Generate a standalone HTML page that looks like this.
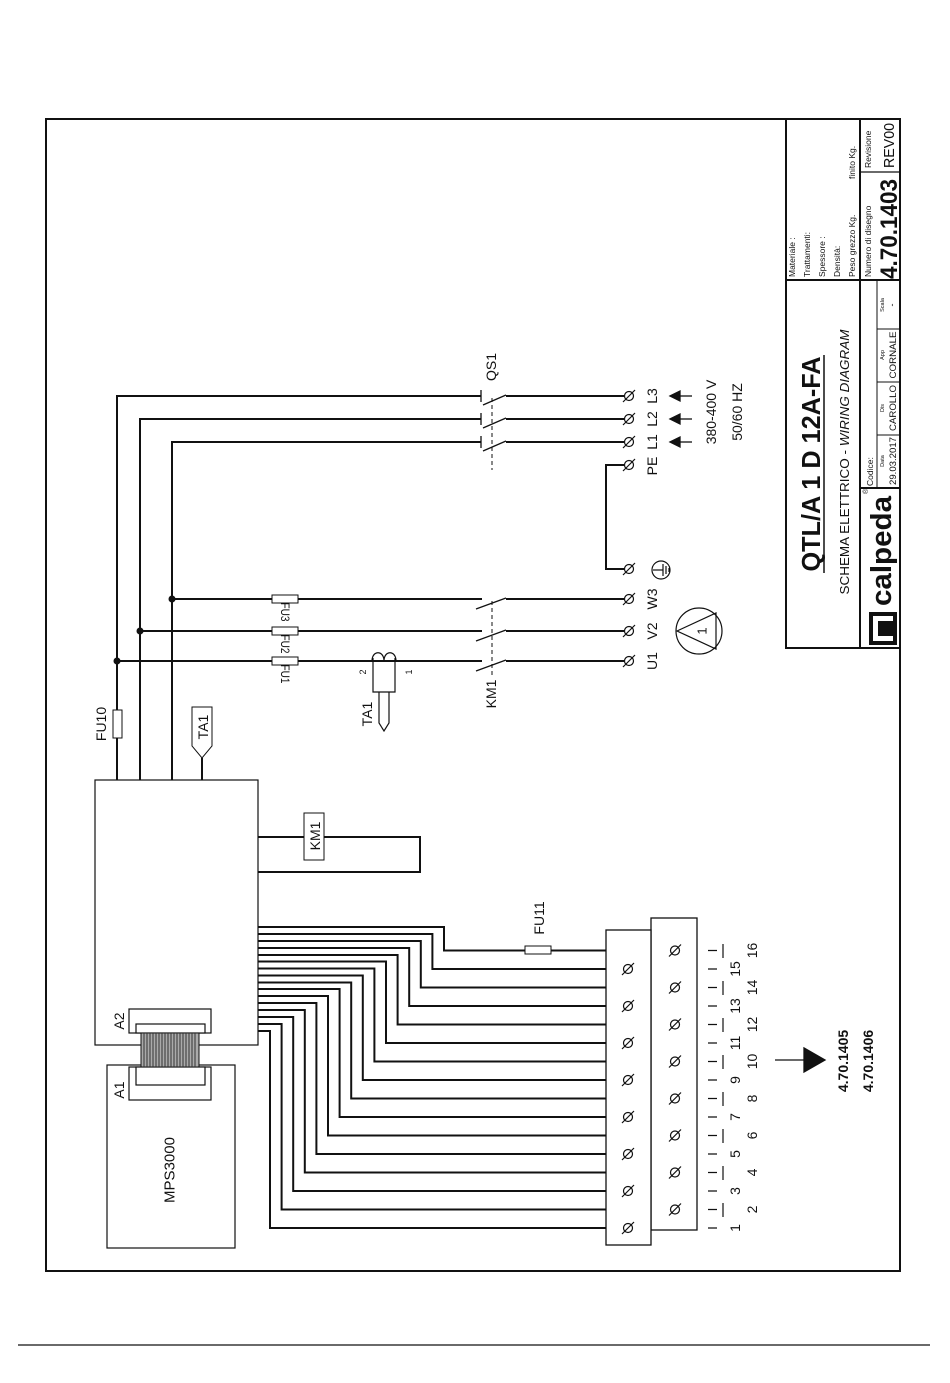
<!DOCTYPE html>
<html><head><meta charset="utf-8"><style>
html,body{margin:0;padding:0;background:#fff;}
svg{display:block;}
text{font-family:"Liberation Sans",sans-serif;fill:#111;}
</style></head><body>
<svg width="950" height="1383" viewBox="0 0 950 1383" xmlns="http://www.w3.org/2000/svg">
<defs>
<g id="t"><circle cx="0" cy="0" r="4.5" fill="#fff" stroke="#111" stroke-width="1.2"/><line x1="-6" y1="6" x2="6" y2="-6" stroke="#111" stroke-width="1.2"/></g>
</defs>
<rect x="46" y="119" width="854" height="1152" fill="none" stroke="#111" stroke-width="2"/>
<line x1="18" y1="1345" x2="930" y2="1345" stroke="#111" stroke-width="1.2"/>

<!-- Title block -->
<g stroke="#111" fill="none">
<rect x="786" y="119" width="114" height="529" stroke-width="2"/>
<line x1="860" y1="119" x2="860" y2="648" stroke-width="2"/>
<line x1="786" y1="280" x2="900" y2="280" stroke-width="2"/>
<line x1="860" y1="172" x2="900" y2="172" stroke-width="1.2"/>
<line x1="860" y1="488" x2="900" y2="488" stroke-width="2"/>
<line x1="877" y1="280" x2="877" y2="488" stroke-width="1"/>
<line x1="877" y1="435" x2="900" y2="435" stroke-width="1"/>
<line x1="877" y1="382" x2="900" y2="382" stroke-width="1"/>
<line x1="877" y1="329" x2="900" y2="329" stroke-width="1"/>
<line x1="824" y1="355" x2="824" y2="573" stroke-width="1.5"/>
</g>
<g font-size="8.5">
<text transform="translate(795,277) rotate(-90)">Materiale :</text>
<text transform="translate(810,277) rotate(-90)">Trattamenti:</text>
<text transform="translate(825,277) rotate(-90)">Spessore :</text>
<text transform="translate(840,277) rotate(-90)">Densità:</text>
<text transform="translate(855,277) rotate(-90)">Peso grezzo Kg.</text>
<text transform="translate(855,179) rotate(-90)">finito Kg.</text>
<text transform="translate(871,277) rotate(-90)">Numero di disegno</text>
<text transform="translate(871,168) rotate(-90)">Revisione</text>
<text transform="translate(873,486) rotate(-90)">Codice:</text>
</g>
<text transform="translate(897,279) rotate(-90)" font-size="24" font-weight="bold" textLength="100" lengthAdjust="spacingAndGlyphs">4.70.1403</text>
<text transform="translate(894,168) rotate(-90)" font-size="15" textLength="45" lengthAdjust="spacingAndGlyphs">REV00</text>
<g font-size="5.5" text-anchor="middle">
<text transform="translate(884,461) rotate(-90)">Data</text>
<text transform="translate(884,408) rotate(-90)">Dis</text>
<text transform="translate(884,355) rotate(-90)">App</text>
<text transform="translate(884,305) rotate(-90)">Scala</text>
</g>
<g font-size="9" text-anchor="middle">
<text transform="translate(896,461) rotate(-90)" textLength="48" lengthAdjust="spacingAndGlyphs">29.03.2017</text>
<text transform="translate(896,408) rotate(-90)" textLength="46" lengthAdjust="spacingAndGlyphs">CAROLLO</text>
<text transform="translate(896,355) rotate(-90)" textLength="47" lengthAdjust="spacingAndGlyphs">CORNALE</text>
<text transform="translate(895,305) rotate(-90)">-</text>
</g>
<text transform="translate(820,464) rotate(-90)" font-size="26" font-weight="bold" text-anchor="middle" textLength="215" lengthAdjust="spacingAndGlyphs">QTL/A 1 D 12A-FA</text>
<text transform="translate(849,462) rotate(-90)" font-size="12.5" text-anchor="middle" textLength="265" lengthAdjust="spacingAndGlyphs">SCHEMA ELETTRICO - <tspan font-style="italic">WIRING DIAGRAM</tspan></text>
<text transform="translate(891,551) rotate(-90)" font-size="29" font-weight="bold" text-anchor="middle" textLength="110" lengthAdjust="spacingAndGlyphs">calpeda</text>
<text transform="translate(868,494) rotate(-90)" font-size="7">®</text>
<rect x="869" y="612" width="28" height="33" fill="#111"/>
<rect x="873" y="616" width="20" height="25" fill="#fff"/>
<rect x="878" y="621" width="19" height="15" fill="#111"/>

<!-- Power wiring -->
<g stroke="#111" stroke-width="2" fill="none">
<polyline points="117,780 117,396 481,396"/>
<polyline points="140,780 140,419 481,419"/>
<polyline points="172,780 172,442 481,442"/>
<line x1="506" y1="396" x2="624" y2="396"/>
<line x1="506" y1="419" x2="624" y2="419"/>
<line x1="506" y1="442" x2="624" y2="442"/>
<polyline points="624,465 606,465 606,569 624,569"/>
<line x1="117" y1="661" x2="482" y2="661"/>
<line x1="140" y1="631" x2="482" y2="631"/>
<line x1="172" y1="599" x2="482" y2="599"/>
<line x1="506" y1="661" x2="624" y2="661"/>
<line x1="506" y1="631" x2="624" y2="631"/>
<line x1="506" y1="599" x2="624" y2="599"/>
<polyline points="258,837 420,837 420,872 258,872"/>
<line x1="202" y1="758" x2="202" y2="780"/>
</g>
<g stroke="#111" stroke-width="1.3">
<line x1="481" y1="390" x2="481" y2="402"/><line x1="483" y1="405" x2="506" y2="395"/>
<line x1="481" y1="413" x2="481" y2="425"/><line x1="483" y1="428" x2="506" y2="418"/>
<line x1="481" y1="436" x2="481" y2="448"/><line x1="483" y1="451" x2="506" y2="441"/>
<line x1="476" y1="671" x2="506" y2="660"/>
<line x1="476" y1="641" x2="506" y2="630"/>
<line x1="476" y1="609" x2="506" y2="598"/>
<line x1="492" y1="398" x2="492" y2="470" stroke-dasharray="4,3" stroke-width="1"/>
<line x1="492" y1="601" x2="492" y2="675" stroke-dasharray="4,3" stroke-width="1"/>
</g>
<g fill="#111">
<circle cx="117" cy="661" r="3.5"/><circle cx="140" cy="631" r="3.5"/><circle cx="172" cy="599" r="3.5"/>
</g>
<g fill="#fff" stroke="#111" stroke-width="1">
<rect x="272" y="595" width="26" height="8"/>
<rect x="272" y="627" width="26" height="8"/>
<rect x="272" y="657" width="26" height="8"/>
<rect x="113" y="710" width="9" height="28"/>
<rect x="525" y="946" width="26" height="8"/>
<rect x="304" y="813" width="20" height="47"/>
<path d="M192,707 L212,707 L212,746 L202,758 L192,746 Z"/>
</g>

<!-- controller box -->
<g stroke="#111" fill="#fff" stroke-width="1.2">
<rect x="95" y="780" width="163" height="265"/>
<rect x="107" y="1065" width="128" height="183"/>
<rect x="129" y="1009" width="82" height="24"/>
<rect x="136" y="1024" width="69" height="9"/>
<rect x="129" y="1067" width="82" height="33"/>
<rect x="136" y="1067" width="69" height="18"/>
</g>
<g stroke="#333" stroke-width="1">
<rect x="141" y="1033" width="58" height="34" fill="#aaa" stroke="#111"/>
<path d="M144,1033v34M147,1033v34M150,1033v34M153,1033v34M156,1033v34M159,1033v34M162,1033v34M165,1033v34M168,1033v34M171,1033v34M174,1033v34M177,1033v34M180,1033v34M183,1033v34M186,1033v34M189,1033v34M192,1033v34M195,1033v34"/>
</g>

<g font-size="14" text-anchor="middle" dominant-baseline="central">
<text transform="translate(285,612) rotate(90)" font-size="12" textLength="19" lengthAdjust="spacingAndGlyphs">FU3</text>
<text transform="translate(285,644) rotate(90)" font-size="12" textLength="19" lengthAdjust="spacingAndGlyphs">FU2</text>
<text transform="translate(285,674) rotate(90)" font-size="12" textLength="19" lengthAdjust="spacingAndGlyphs">FU1</text>
<text transform="translate(101,724) rotate(-90)">FU10</text>
<text transform="translate(203,727) rotate(-90)">TA1</text>
<text transform="translate(315,836) rotate(-90)">KM1</text>
<text transform="translate(539,918) rotate(-90)">FU11</text>
<text transform="translate(491,367) rotate(-90)">QS1</text>
<text transform="translate(491,694) rotate(-90)">KM1</text>
<text transform="translate(367,714) rotate(-90)">TA1</text>
<text transform="translate(652,396) rotate(-90)">L3</text>
<text transform="translate(652,419) rotate(-90)">L2</text>
<text transform="translate(652,442) rotate(-90)">L1</text>
<text transform="translate(652,466) rotate(-90)">PE</text>
<text transform="translate(652,599) rotate(-90)">W3</text>
<text transform="translate(652,631) rotate(-90)">V2</text>
<text transform="translate(652,661) rotate(-90)">U1</text>
<text transform="translate(711,412) rotate(-90)">380-400 V</text>
<text transform="translate(737,412) rotate(-90)">50/60 HZ</text>
<text transform="translate(170,1170) rotate(-90)" font-size="15">MPS3000</text>
<text transform="translate(119,1021) rotate(-90)">A2</text>
<text transform="translate(119,1090) rotate(-90)">A1</text>
<text transform="translate(702,631) rotate(-90)" font-size="13">1</text>
<text transform="translate(363,672) rotate(-90)" font-size="9">2</text>
<text transform="translate(409,672) rotate(-90)" font-size="9">1</text>
<text transform="translate(843,1061) rotate(-90)" font-weight="bold" font-size="14">4.70.1405</text>
<text transform="translate(868,1061) rotate(-90)" font-weight="bold" font-size="14">4.70.1406</text>
</g>
<use href="#t" x="629" y="396"/><use href="#t" x="629" y="419"/><use href="#t" x="629" y="442"/><use href="#t" x="629" y="465"/>
<use href="#t" x="629" y="569"/><use href="#t" x="629" y="599"/><use href="#t" x="629" y="631"/><use href="#t" x="629" y="661"/>
<g stroke="#111" stroke-width="1.3" fill="#111">
<line x1="678" y1="396" x2="692" y2="396"/><path d="M670,396 L680,391 L680,401 Z"/>
<line x1="678" y1="419" x2="692" y2="419"/><path d="M670,419 L680,414 L680,424 Z"/>
<line x1="678" y1="442" x2="692" y2="442"/><path d="M670,442 L680,437 L680,447 Z"/>
<line x1="775" y1="1060" x2="805" y2="1060"/><path d="M804,1048 L825,1060 L804,1072 Z"/>
</g>
<g stroke="#111" stroke-width="1.2" fill="none">
<circle cx="661" cy="570" r="9"/>
<line x1="653" y1="570" x2="663" y2="570"/><line x1="663" y1="564" x2="663" y2="576"/><line x1="666" y1="566" x2="666" y2="574"/><line x1="669" y1="568" x2="669" y2="572"/>
<circle cx="699" cy="631" r="23"/>
<path d="M677,631 L716,613 L716,649 Z"/>
<path d="M372,661 C372,650 384,650 384,661 C384,650 396,650 396,661"/>
<path d="M373,658 L373,692 L395,692 L395,658"/>
<path d="M379,692 L379,723 L384,731 L389,723 L389,692"/>
</g>
<!-- signal wires -->
<g stroke="#111" stroke-width="2" fill="none">
<polyline points="258,1031 270,1031 270,1228 606,1228"/>
<polyline points="258,1024 281.6,1024 281.6,1209.5 606,1209.5"/>
<polyline points="258,1017 293.2,1017 293.2,1191 606,1191"/>
<polyline points="258,1010 304.8,1010 304.8,1172.5 606,1172.5"/>
<polyline points="258,1003 316.4,1003 316.4,1154 606,1154"/>
<polyline points="258,996 328,996 328,1135.5 606,1135.5"/>
<polyline points="258,989 339.6,989 339.6,1117 606,1117"/>
<polyline points="258,982.5 351.2,982.5 351.2,1098.5 606,1098.5"/>
<polyline points="258,975.5 362.8,975.5 362.8,1080 606,1080"/>
<polyline points="258,968.5 374.4,968.5 374.4,1061.5 606,1061.5"/>
<polyline points="258,961.5 386,961.5 386,1043 606,1043"/>
<polyline points="258,955 397.6,955 397.6,1024.5 606,1024.5"/>
<polyline points="258,948 409.2,948 409.2,1006 606,1006"/>
<polyline points="258,941 420.8,941 420.8,987.5 606,987.5"/>
<polyline points="258,934 432.4,934 432.4,969 606,969"/>
<polyline points="258,927 444,927 444,950.5 525,950.5"/>
<line x1="551" y1="950.5" x2="606" y2="950.5"/>
</g>
<g stroke="#111" stroke-width="1.3" fill="#fff">
<rect x="651" y="918" width="46" height="312"/>
<rect x="606" y="930" width="45" height="315"/>
</g>
<use href="#t" x="628" y="1228"/><use href="#t" x="628" y="1191"/><use href="#t" x="628" y="1154"/><use href="#t" x="628" y="1117"/>
<use href="#t" x="628" y="1080"/><use href="#t" x="628" y="1043"/><use href="#t" x="628" y="1006"/><use href="#t" x="628" y="969"/>
<use href="#t" x="675" y="1209.5"/><use href="#t" x="675" y="1172.5"/><use href="#t" x="675" y="1135.5"/><use href="#t" x="675" y="1098.5"/>
<use href="#t" x="675" y="1061.5"/><use href="#t" x="675" y="1024.5"/><use href="#t" x="675" y="987.5"/><use href="#t" x="675" y="950.5"/>
<g stroke="#111" stroke-width="1.2">
<path d="M708,1228h9M708,1209.5h9M708,1191h9M708,1172.5h9M708,1154h9M708,1135.5h9M708,1117h9M708,1098.5h9M708,1080h9M708,1061.5h9M708,1043h9M708,1024.5h9M708,1006h9M708,987.5h9M708,969h9M708,950.5h9"/>
<path d="M723,1203v14M723,1166v14M723,1129v14M723,1092v14M723,1055v14M723,1018v14M723,981v14M723,944v14"/>
</g>
<g font-size="14" text-anchor="middle" dominant-baseline="central">
<text transform="translate(735,1228) rotate(-90)">1</text>
<text transform="translate(752,1209.5) rotate(-90)">2</text>
<text transform="translate(735,1191) rotate(-90)">3</text>
<text transform="translate(752,1172.5) rotate(-90)">4</text>
<text transform="translate(735,1154) rotate(-90)">5</text>
<text transform="translate(752,1135.5) rotate(-90)">6</text>
<text transform="translate(735,1117) rotate(-90)">7</text>
<text transform="translate(752,1098.5) rotate(-90)">8</text>
<text transform="translate(735,1080) rotate(-90)">9</text>
<text transform="translate(752,1061.5) rotate(-90)">10</text>
<text transform="translate(735,1043) rotate(-90)">11</text>
<text transform="translate(752,1024.5) rotate(-90)">12</text>
<text transform="translate(735,1006) rotate(-90)">13</text>
<text transform="translate(752,987.5) rotate(-90)">14</text>
<text transform="translate(735,969) rotate(-90)">15</text>
<text transform="translate(752,950.5) rotate(-90)">16</text>
</g>
</svg>
</body></html>
